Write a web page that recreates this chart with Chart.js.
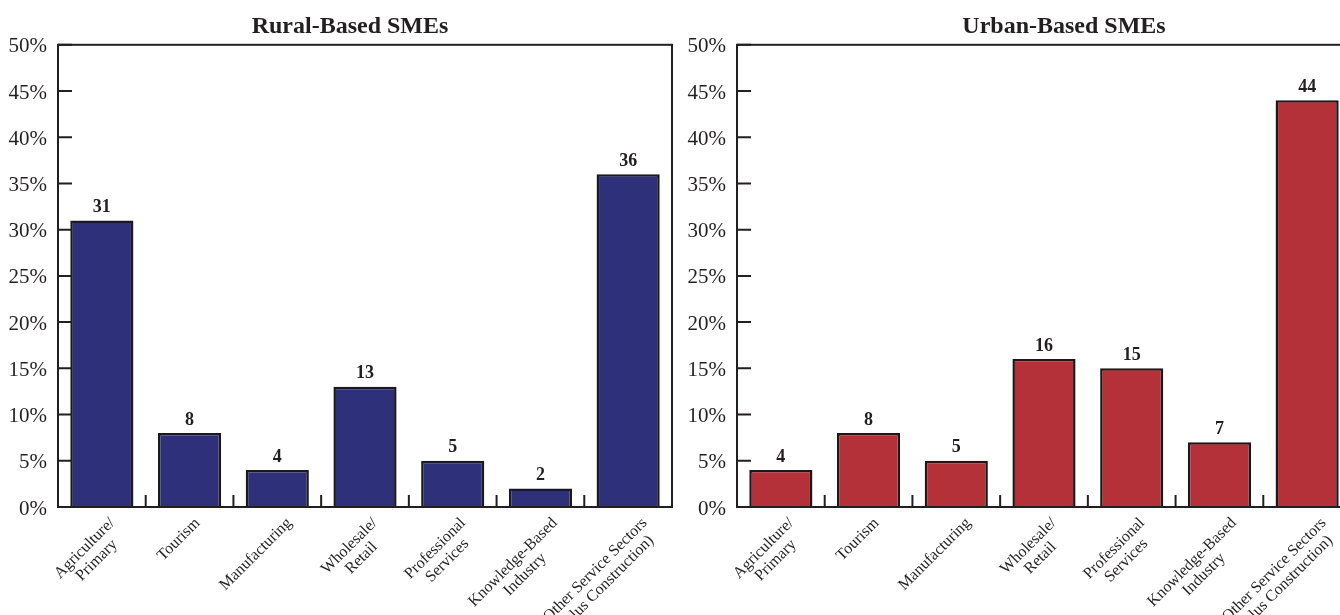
<!DOCTYPE html>
<html lang="en">
<head>
    <meta charset="UTF-8">
    <title>Rural vs Urban SMEs by Sector</title>
    <style>
        * {
            margin: 0;
            padding: 0;
            box-sizing: border-box;
        }

        body {
            background: #ffffff;
            width: 1340px;
            height: 615px;
            overflow: hidden;
            position: relative;
        }

        .panel {
            position: absolute;
            top: 0;
            height: 615px;
        }

        #rural-box { left: 0; width: 700px; }
        #urban-box { left: 680px; width: 768px; }
    </style>
    <script src="https://cdn.jsdelivr.net/npm/chart.js"></script>
</head>
<body>
    <div class="panel" id="rural-box"><canvas id="ruralChart"></canvas></div>
    <div class="panel" id="urban-box"><canvas id="urbanChart"></canvas></div>

    <script>
        const categories = [
            ["Agriculture/", "Primary"],
            ["Tourism"],
            ["Manufacturing"],
            ["Wholesale/", "Retail"],
            ["Professional", "Services"],
            ["Knowledge-Based", "Industry"],
            ["Other Service Sectors", "(plus Construction)"]
        ];
        const ruralValues = [31, 8, 4, 13, 5, 2, 36];
        const urbanValues = [4, 8, 5, 16, 15, 7, 44];
        const yMax = 50;
        const yStep = 5;

        const ink = "#231f20";
        const serif = "'Liberation Serif', 'Times New Roman', serif";

        // box, inner tick marks, value labels and rotated category labels
        const decorations = {
            id: "decorations",
            afterDatasetsDraw(chart) {
                const ctx = chart.ctx;
                const a = chart.chartArea;
                const x = chart.scales.x;
                const y = chart.scales.y;

                ctx.save();
                ctx.strokeStyle = ink;
                ctx.lineWidth = 2;
                ctx.strokeRect(a.left, a.top, a.right - a.left, a.bottom - a.top);

                ctx.beginPath();
                y.ticks.forEach(t => {
                    const py = y.getPixelForValue(t.value);
                    ctx.moveTo(a.left, py);
                    ctx.lineTo(a.left + 14, py);
                });
                for (let i = 0; i < categories.length - 1; i++) {
                    const px = (x.getPixelForValue(i) + x.getPixelForValue(i + 1)) / 2;
                    ctx.moveTo(px, a.bottom);
                    ctx.lineTo(px, a.bottom - 12);
                }
                ctx.stroke();

                // numbers on top of bars
                const values = chart.data.datasets[0].data;
                ctx.fillStyle = ink;
                ctx.font = "bold 18px " + serif;
                ctx.textAlign = "center";
                ctx.textBaseline = "bottom";
                chart.getDatasetMeta(0).data.forEach((bar, i) => {
                    ctx.fillText(String(values[i]), bar.x, bar.y - 4);
                });

                // category names, rotated 45 degrees, lines centred on each other
                ctx.font = "16px " + serif;
                ctx.textBaseline = "top";
                chart.data.labels.forEach((lab, i) => {
                    const lines = Array.isArray(lab) ? lab : [lab];
                    const w = Math.max(...lines.map(s => ctx.measureText(s).width));
                    ctx.save();
                    ctx.translate(x.getPixelForValue(i) + 0.1 * w - 3, a.bottom + 8);
                    ctx.rotate(-Math.PI / 4);
                    lines.forEach((s, j) => ctx.fillText(s, -w / 2, j * 17));
                    ctx.restore();
                });
                ctx.restore();
            }
        };

        function makeChart(id, title, values, color, axisWidth, rightPad) {
            return new Chart(document.getElementById(id), {
                type: "bar",
                data: {
                    labels: categories,
                    datasets: [{
                        data: values,
                        backgroundColor: color,
                        borderColor: "#1a1a1a",
                        borderWidth: 2.5,
                        barPercentage: 0.72,
                        categoryPercentage: 1.0
                    }]
                },
                options: {
                    responsive: true,
                    maintainAspectRatio: false,
                    animation: false,
                    layout: { padding: { left: 0, right: 0, top: 0, bottom: 108 } },
                    plugins: {
                        legend: { display: false },
                        tooltip: { enabled: false },
                        title: {
                            display: true,
                            text: title,
                            color: ink,
                            font: { family: serif, size: 24, weight: "bold" },
                            padding: { top: 12, bottom: 4 }
                        }
                    },
                    scales: {
                        x: {
                            ticks: { display: false },
                            grid: { display: false },
                            border: { display: false },
                            afterFit(scale) { scale.height = 0; }
                        },
                        y: {
                            min: 0,
                            max: yMax,
                            ticks: {
                                stepSize: yStep,
                                padding: 11,
                                labelOffset: 2,
                                color: ink,
                                font: { family: serif, size: 21 },
                                callback: v => v + "%"
                            },
                            grid: { display: false, drawTicks: false },
                            border: { display: false },
                            afterFit(scale) { scale.width = axisWidth; }
                        },
                        // empty right-hand spacer so the title stays centred on the whole canvas
                        spacer: {
                            type: "linear",
                            position: "right",
                            ticks: { display: false },
                            grid: { display: false, drawTicks: false },
                            border: { display: false },
                            afterFit(scale) { scale.width = rightPad; }
                        }
                    }
                },
                plugins: [decorations]
            });
        }

        makeChart("ruralChart", "Rural-Based SMEs", ruralValues, "#2e3179", 58, 28);
        makeChart("urbanChart", "Urban-Based SMEs", urbanValues, "#b5313a", 57, 97);
    </script>
</body>
</html>
